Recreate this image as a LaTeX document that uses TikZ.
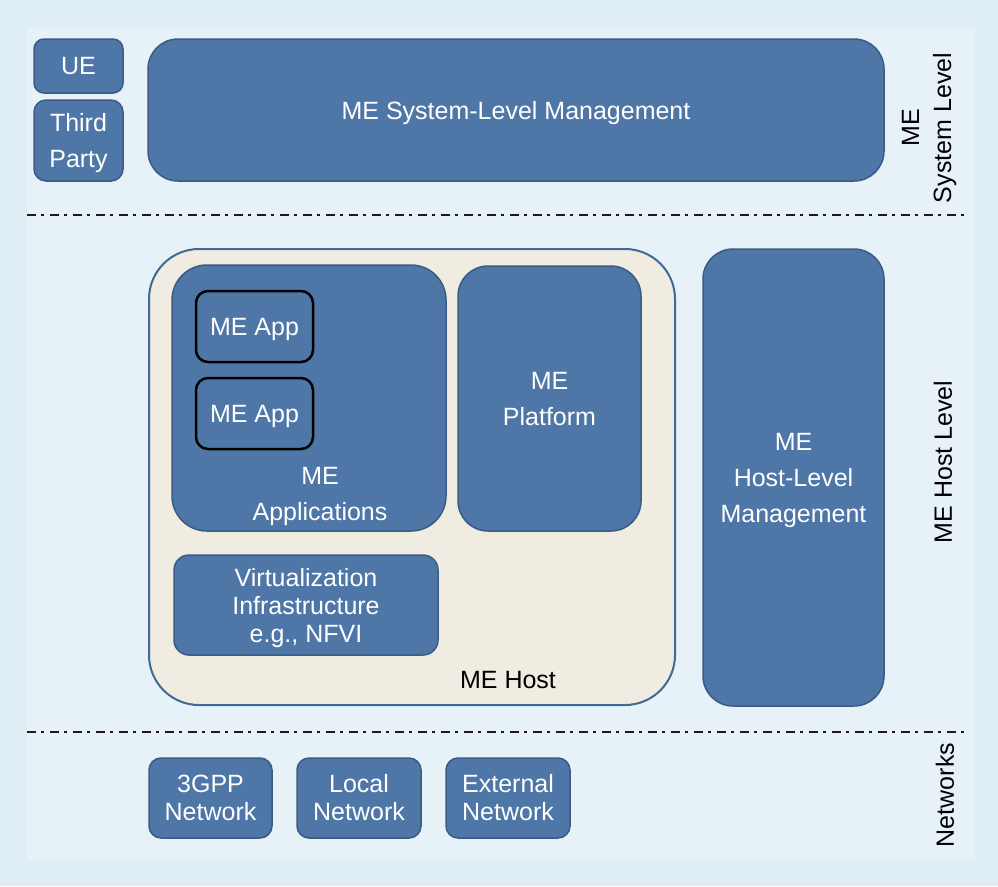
\documentclass[tikz,border=0pt]{standalone}
\usepackage{fontspec}
\setmainfont{Liberation Sans}
\usepackage{xcolor}
\definecolor{meblue}{RGB}{78,118,167}
\definecolor{meedge}{RGB}{58,92,132}
\definecolor{mebg}{RGB}{223,237,244}
\definecolor{mepanel}{RGB}{230,242,248}
\definecolor{mehost}{RGB}{240,236,225}
\definecolor{mehostedge}{RGB}{62,106,148}
\definecolor{mesep}{RGB}{35,25,20}
\tikzset{
  mebox/.style = {draw=meedge, fill=meblue, line width=1.5pt, text=white,
    align=center, inner sep=0pt, text depth=-2pt},% blue block
  mebox_s/.style = {mebox, font=\fontsize{25}{28}\selectfont},% tighter lines
  meapp/.style = {mebox, draw=black, line width=2.5pt, rounded corners=12pt,
    minimum width=117pt, minimum height=71pt},% ME App
  hostbox/.style = {draw=mehostedge, fill=mehost, line width=2pt,
    rounded corners=50pt, inner sep=0pt},% ME Host frame
  lvl/.style = {rotate=90, align=center, text=black,
    font=\fontsize{25}{32}\selectfont},% level names at the right
  sepline/.style = {draw=mesep, line width=2.8pt,
    dash pattern=on 9pt off 5pt on 3pt off 6pt}
}
\begin{document}
\begin{tikzpicture}[x=1pt, y=-1pt, font=\fontsize{25}{36}\selectfont]
\useasboundingbox (0,0) rectangle (998,886);
\fill[mebg] (0,0) rectangle (998,886);
\fill[mepanel] (27,27) rectangle (975,860);

% system level
\node[mebox, rounded corners=10pt, minimum width=89pt, minimum height=54pt] (ue) at (78.5,66) {UE};
\node[mebox, rounded corners=12pt, minimum width=89pt, minimum height=81pt, text depth=-9pt] (third) at (78.5,140.5) {Third\\Party};
\node[mebox, rounded corners=30pt, minimum width=736pt, minimum height=142pt] (sysmgmt) at (516,110) {ME System-Level Management};
\node[lvl] (syslvl) at (929,128) {ME\\System Level};

\coordinate (sepa) at (27,215);
\coordinate (sepb) at (965,215);
\draw[sepline] (sepa) -- (sepb);

% host level
\node[hostbox, minimum width=526pt, minimum height=456pt] (host) at (412,477) {};
\node[text=black] (hostlbl) at (508,680) {ME Host};
\node[mebox, rounded corners=35pt, minimum width=274pt, minimum height=266pt] (apps) at (309,398) {};
\node[text=white, align=center] (appslbl) at (320,496) {ME\\Applications};
\node[meapp] (app1) at (254.5,326.5) {ME App};
\node[meapp] (app2) at (254.5,413.5) {ME App};
\node[mebox, rounded corners=30pt, minimum width=183pt, minimum height=265pt] (platform) at (549.5,398.5) {ME\\Platform};
\node[mebox_s, rounded corners=15pt, minimum width=264pt, minimum height=100pt, text depth=-9pt] (virt) at (306,605) {Virtualization\\Infrastructure\\e.g., NFVI};
\node[mebox, rounded corners=30pt, minimum width=181pt, minimum height=457pt, text depth=-10pt] (hostmgmt) at (793.5,477.5) {ME\\Host-Level\\Management};
\node[lvl] (hostlvl) at (943,462) {ME Host Level};

\coordinate (sepc) at (27,732);
\coordinate (sepd) at (965,732);
\draw[sepline] (sepc) -- (sepd);

% networks
\node[mebox_s, rounded corners=12pt, minimum width=123pt, minimum height=80pt, text depth=1pt] (net3gpp) at (210.5,798) {3GPP\\Network};
\node[mebox_s, rounded corners=12pt, minimum width=124pt, minimum height=80pt, text depth=1pt] (netlocal) at (359,798) {Local\\Network};
\node[mebox_s, rounded corners=12pt, minimum width=124pt, minimum height=80pt, text depth=1pt] (netext) at (508,798) {External\\Network};
\node[lvl] (netlvl) at (945,795) {Networks};
\end{tikzpicture}
\end{document}
